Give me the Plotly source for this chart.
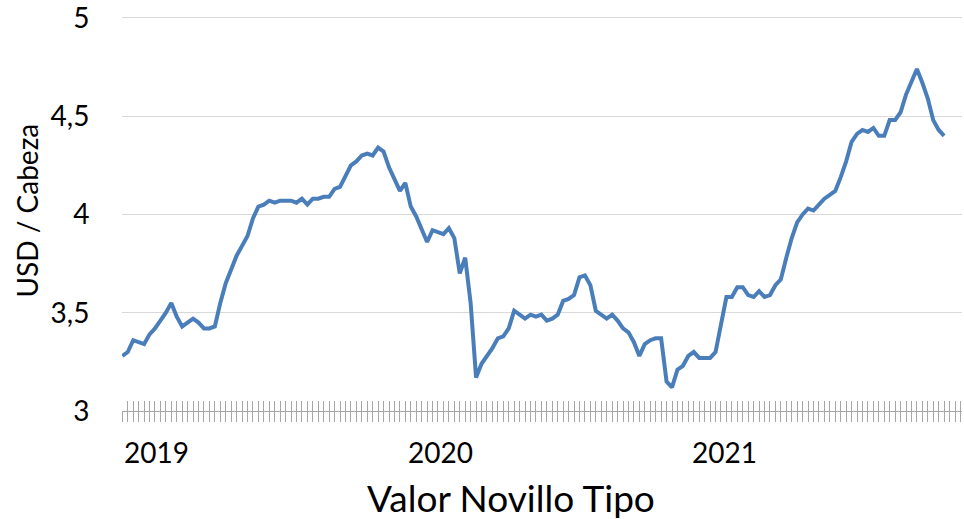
import pandas as pd
import plotly.graph_objects as go

# Weekly values (USD / cabeza)
start_date = "2018-11-18"
values = [
    3.28, 3.30, 3.36, 3.35, 3.34, 3.39, 3.42, 3.46, 3.50, 3.55,
    3.48, 3.43, 3.45, 3.47, 3.45, 3.42, 3.42, 3.43, 3.55, 3.65,
    3.72, 3.79, 3.84, 3.89, 3.98, 4.04, 4.05, 4.07, 4.06, 4.07,
    4.07, 4.07, 4.06, 4.08, 4.05, 4.08, 4.08, 4.09, 4.09, 4.13,
    4.14, 4.19, 4.25, 4.27, 4.30, 4.31, 4.30, 4.34, 4.32, 4.24,
    4.18, 4.12, 4.16, 4.04, 3.99, 3.93, 3.86, 3.92, 3.91, 3.90,
    3.93, 3.88, 3.70, 3.78, 3.55, 3.17, 3.24, 3.28, 3.32, 3.37,
    3.38, 3.42, 3.51, 3.49, 3.47, 3.49, 3.48, 3.49, 3.46, 3.47,
    3.49, 3.56, 3.57, 3.59, 3.68, 3.69, 3.64, 3.51, 3.49, 3.47,
    3.49, 3.46, 3.42, 3.40, 3.35, 3.28, 3.34, 3.36, 3.37, 3.37,
    3.15, 3.12, 3.21, 3.23, 3.28, 3.30, 3.27, 3.27, 3.27, 3.30,
    3.45, 3.58, 3.58, 3.63, 3.63, 3.59, 3.58, 3.61, 3.58, 3.59,
    3.64, 3.67, 3.78, 3.88, 3.96, 4.00, 4.03, 4.02, 4.05, 4.08,
    4.10, 4.12, 4.19, 4.27, 4.37, 4.41, 4.43, 4.42, 4.44, 4.40,
    4.40, 4.48, 4.48, 4.52, 4.61, 4.68, 4.74, 4.67, 4.59, 4.48,
    4.43, 4.40,
]
dates = pd.date_range(start=start_date, periods=len(values), freq="7D")

year_labels = ["2019", "2020", "2021"]
year_dates = ["2019-01-01", "2020-01-01", "2021-01-01"]
y_tickvals = [3, 3.5, 4, 4.5, 5]
y_ticktext = ["3", "3,5", "4", "4,5", "5"]
y_title = "USD / Cabeza"
x_title = "Valor Novillo Tipo"

FONT = "Lato"
AX_GRAY = "#A6A6A6"
WEEK_MS = 7 * 24 * 3600 * 1000
x_range = [dates[0] - pd.Timedelta(hours=10), dates[0] + pd.Timedelta(days=1080)]

fig = go.Figure()
fig.add_trace(go.Scatter(
    x=dates, y=values, mode="lines",
    line=dict(color="#4A7EBB", width=4),
    showlegend=False, hoverinfo="x+y",
))
# invisible companion trace to carry the inward tick marks axis
fig.add_trace(go.Scatter(
    x=dates, y=values, mode="lines", xaxis="x2",
    line=dict(color="rgba(0,0,0,0)", width=0),
    showlegend=False, hoverinfo="skip",
))

common_x = dict(
    type="date", range=x_range, tickmode="linear", tick0=start_date, dtick=WEEK_MS,
    ticklen=10, tickwidth=1, tickcolor=AX_GRAY, showticklabels=False,
    showgrid=False, zeroline=False, automargin=False,
)
fig.update_layout(
    width=964, height=519,
    margin=dict(l=122, r=2, t=14, b=108, autoexpand=False),
    paper_bgcolor="white", plot_bgcolor="white",
    font=dict(family=FONT, color="#000000"),
    xaxis=dict(**common_x, ticks="outside", showline=True, linecolor=AX_GRAY, linewidth=1),
    xaxis2=dict(**common_x, ticks="inside", overlaying="x", matches="x", anchor="y", showline=False),
    yaxis=dict(
        range=[2.9999, 5.02], tickmode="array", tickvals=y_tickvals, ticktext=y_ticktext,
        ticks="outside", ticklen=26, tickcolor="rgba(0,0,0,0)",
        tickfont=dict(family=FONT, size=28, color="#000000"),
        ticklabeloverflow="allow",
        showgrid=True, gridcolor="#D9D9D9", gridwidth=1,
        zeroline=False, showline=False, automargin=False,
    ),
)

annotations = []
for lab, d in zip(year_labels, year_dates):
    annotations.append(dict(
        x=d, xref="x", y=0, yref="paper", text=lab, showarrow=False,
        xanchor="center", yanchor="middle", yshift=-41,
        font=dict(family=FONT, size=28, color="#000000"),
    ))
annotations.append(dict(
    x=0, xref="paper", xshift=-95, y=(214.5 - 14) / 397, yref="paper", text=y_title,
    textangle=-90, showarrow=False, xanchor="center", yanchor="middle",
    font=dict(family=FONT, size=28, color="#000000"),
))
annotations.append(dict(
    x=(511 - 122) / 840, xref="paper", y=0, yref="paper", yshift=-86,
    text=x_title, showarrow=False, xanchor="center", yanchor="middle",
    font=dict(family=FONT, size=37, color="#000000"),
))
fig.update_layout(annotations=annotations)

fig.write_html(
    "out.html",
    config={"displayModeBar": False},
    post_script="document.body.style.margin='0';document.body.style.overflow='hidden';",
)
